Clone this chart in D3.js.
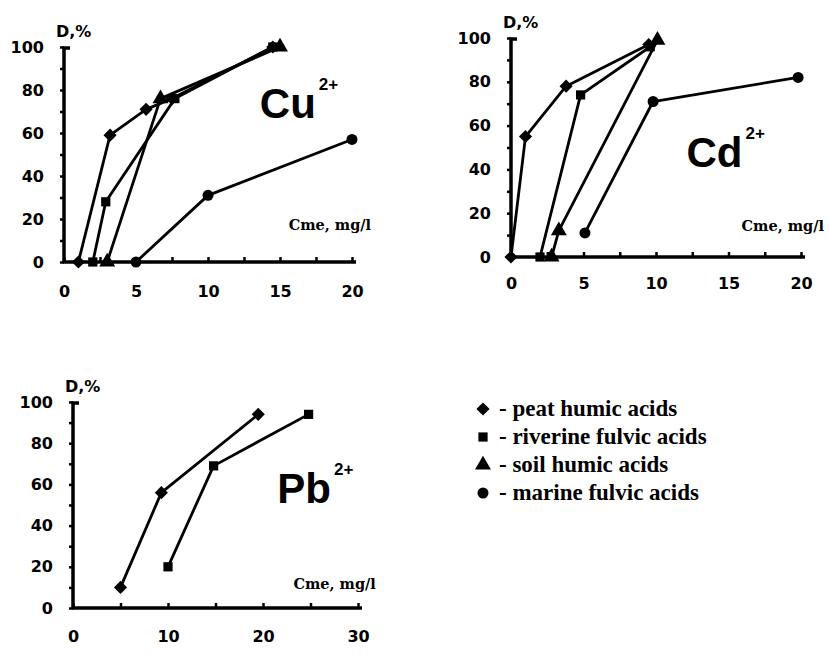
<!DOCTYPE html>
<html>
<head>
<meta charset="utf-8">
<script src="https://cdn.jsdelivr.net/npm/d3@7"></script>
<style>
  body { margin: 0; background: #fff; }
  svg { display: block; }
  .tick text { font-family: "DejaVu Sans", sans-serif; font-weight: bold; font-size: 16px; fill: #000; }
</style>
</head>
<body>
<svg id="chart" width="830" height="655"></svg>
<script>
// series order matches the legend
var seriesNames = ["peat humic acids", "riverine fulvic acids", "soil humic acids", "marine fulvic acids"];
var seriesMarkers = ["diamond", "square", "triangle", "circle"];

// Cu2+ : [C, D%]
var cuPeat = [[1, 0], [3.2, 59], [5.7, 71], [7.5, 76], [14.5, 100]];
var cuRiverine = [[2, 0], [2.9, 28], [7.7, 76], [14.5, 100]];
var cuSoil = [[3, 0], [6.7, 76], [15, 100]];
var cuMarine = [[5, 0], [10, 31], [20, 57]];

// Cd2+
var cdPeat = [[0, 0], [1, 55], [3.8, 78], [9.5, 97]];
var cdRiverine = [[2, 0], [4.8, 74], [9.6, 96]];
var cdSoil = [[2.8, 0], [3.3, 12], [10.1, 99]];
var cdMarine = [[5.1, 11], [9.8, 71], [19.8, 82]];

// Pb2+
var pbPeat = [[5, 10], [9.3, 56], [19.5, 94]];
var pbRiverine = [[10, 20], [14.8, 69], [24.8, 94]];

var yTicks = [0, 10, 20, 30, 40, 50, 60, 70, 80, 90, 100];
var yLabels = [0, 20, 40, 60, 80, 100];
var xTicks20 = [0, 2.5, 5, 7.5, 10, 12.5, 15, 17.5, 20];
var xLabels20 = [0, 5, 10, 15, 20];
var xTicks30 = [0, 5, 10, 15, 20, 25, 30];
var xLabels30 = [0, 10, 20, 30];

var yLabel = "D,%";
var xLabel = "Cme, mg/l";

var panels = [
  {
    metal: "Cu", series: [cuPeat, cuRiverine, cuSoil, cuMarine],
    xMax: 20, xTicks: xTicks20, xLabels: xLabels20,
    left: 64, right: 352, bottom: 262, top: 47, xPad: 24,
    titleAt: [13.6, 67], xLabelAt: [15.6, 15]
  },
  {
    metal: "Cd", series: [cdPeat, cdRiverine, cdSoil, cdMarine],
    xMax: 20, xTicks: xTicks20, xLabels: xLabels20,
    left: 511, right: 801, bottom: 257, top: 38, xPad: 21,
    titleAt: [12.1, 41], xLabelAt: [15.9, 12]
  },
  {
    metal: "Pb", series: [pbPeat, pbRiverine],
    xMax: 30, xTicks: xTicks30, xLabels: xLabels30,
    left: 73, right: 358, bottom: 608, top: 402, xPad: 23,
    titleAt: [21.5, 51], xLabelAt: [23.2, 9]
  }
];

var svg = d3.select("#chart");

var symbolTypes = {
  diamond: d3.symbolDiamond2,
  square: d3.symbolSquare,
  triangle: d3.symbolTriangle,
  circle: d3.symbolCircle
};
var symbolSizes = { diamond: 110, square: 85, triangle: 110, circle: 95 };

function marker(name) {
  return d3.symbol().type(symbolTypes[name]).size(symbolSizes[name])();
}

panels.forEach(function (p) {
  var xScale = d3.scaleLinear().domain([0, p.xMax]).range([p.left, p.right]);
  var yScale = d3.scaleLinear().domain([0, 100]).range([p.bottom, p.top]);

  var g = svg.append("g");

  // y axis: minor ticks every 10, labels every 20
  var yAxis = g
    .append("g")
    .attr("transform", "translate(" + p.left + ",0)")
    .call(
      d3.axisLeft(yScale)
        .tickValues(yTicks)
        .tickSize(4)
        .tickPadding(16)
        .tickFormat((d) => (yLabels.indexOf(d) >= 0 ? d : ""))
    );
  yAxis.select(".domain").remove();
  yAxis.selectAll(".tick line").attr("stroke", "#000").attr("stroke-width", 2.5);
  g.append("path")
    .attr("d",
      "M" + (p.left + 6) + "," + (yScale(100) + 1) +
      "H" + p.left + "V" + yScale(0))
    .attr("fill", "none")
    .attr("stroke", "#000")
    .attr("stroke-width", 3.5);

  // x axis: small upward ticks
  var xAxis = g
    .append("g")
    .attr("transform", "translate(0," + p.bottom + ")")
    .call(
      d3.axisBottom(xScale)
        .tickValues(p.xTicks)
        .tickSize(-5)
        .tickPadding(p.xPad)
        .tickFormat((d) => (p.xLabels.indexOf(d) >= 0 ? d : ""))
    );
  xAxis.select(".domain").remove();
  xAxis.selectAll(".tick line").attr("stroke", "#000").attr("stroke-width", 2.5);
  g.append("line")
    .attr("x1", xScale(0) - 1)
    .attr("x2", xScale(p.xMax) + 4)
    .attr("y1", yScale(0))
    .attr("y2", yScale(0))
    .attr("stroke", "#000")
    .attr("stroke-width", 3.5);

  // axis captions
  g.append("text")
    .attr("x", p.left - 8)
    .attr("y", yScale(100) - 10)
    .attr("font-family", "DejaVu Sans, sans-serif")
    .attr("font-weight", "bold")
    .attr("font-size", 16)
    .text(yLabel);

  g.append("text")
    .attr("x", xScale(p.xLabelAt[0]))
    .attr("y", yScale(p.xLabelAt[1]))
    .attr("font-family", "DejaVu Serif, serif")
    .attr("font-weight", "bold")
    .attr("font-size", 14.5)
    .text(xLabel);

  // metal ion title
  var title = g
    .append("text")
    .attr("x", xScale(p.titleAt[0]))
    .attr("y", yScale(p.titleAt[1]))
    .attr("font-family", "Liberation Sans, Arial, sans-serif")
    .attr("font-weight", "bold")
    .attr("font-size", 42);
  title.append("tspan").text(p.metal);
  title.append("tspan")
    .attr("dx", 3)
    .attr("dy", -28)
    .attr("font-size", 17)
    .text("2+");

  var line = d3
    .line()
    .x((d) => xScale(d[0]))
    .y((d) => yScale(d[1]));

  p.series.forEach(function (s, i) {
    g.append("path")
      .datum(s)
      .attr("d", line)
      .attr("fill", "none")
      .attr("stroke", "#000")
      .attr("stroke-width", 2.8)
      .attr("stroke-linejoin", "round");

    g.selectAll(".m" + i)
      .data(s)
      .enter()
      .append("path")
      .attr("class", "m" + i)
      .attr("d", marker(seriesMarkers[i]))
      .attr("transform", (d) => "translate(" + xScale(d[0]) + "," + yScale(d[1]) + ")")
      .attr("fill", "#000");
  });
});

// legend
var legendY = d3.scaleBand().domain(seriesNames).range([395, 507]);
var legend = svg
  .selectAll(".legend")
  .data(seriesNames)
  .enter()
  .append("g")
  .attr("class", "legend")
  .attr("transform", (d) => "translate(483," + (legendY(d) + legendY.bandwidth() / 2) + ")");

legend
  .append("path")
  .attr("d", (d, i) => marker(seriesMarkers[i]))
  .attr("fill", "#000");

legend
  .append("text")
  .attr("x", 16)
  .attr("y", 7)
  .attr("font-family", "Liberation Serif, Times New Roman, serif")
  .attr("font-weight", "bold")
  .attr("font-size", 23)
  .text((d) => "- " + d);
</script>
</body>
</html>
